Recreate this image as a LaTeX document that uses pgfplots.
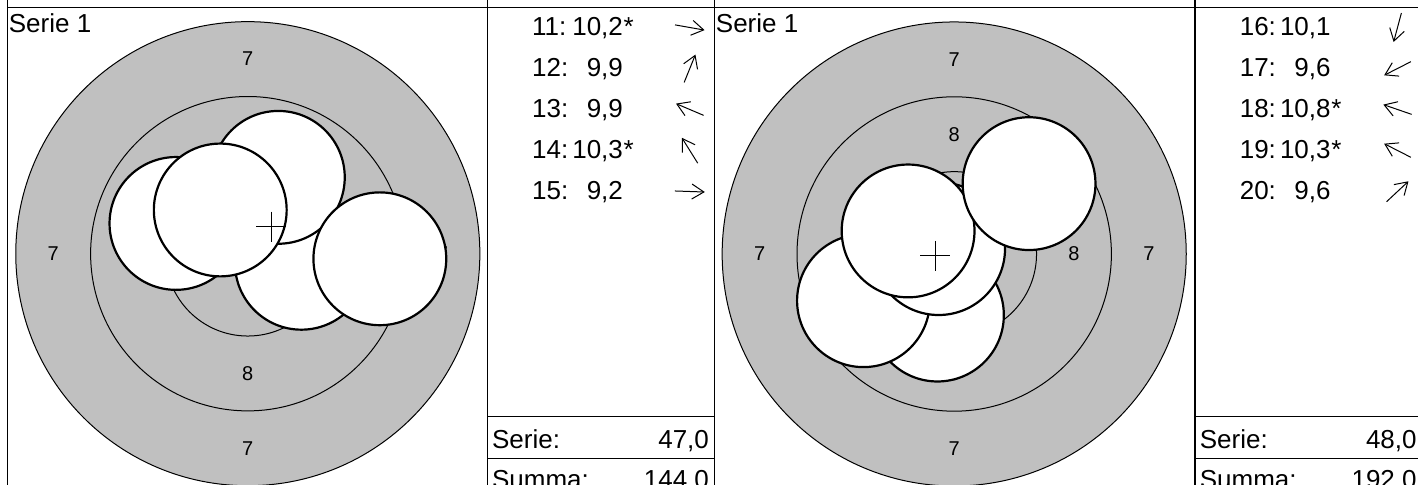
\documentclass[border=0pt]{standalone}
\usepackage{fontspec}
\setmainfont{Liberation Sans}
\usepackage{pgfplots}
\pgfplotsset{compat=1.18}
\usetikzlibrary{arrows.meta}
\definecolor{ringgray}{RGB}{192,192,192}
\newcommand{\mainf}{\fontsize{13}{15}\selectfont}
\newcommand{\ringf}{\fontsize{10}{12}\selectfont}

% shot data (mm from target centre, y up), in firing order
\pgfplotstableread{
x y
1.79 -0.32
1.02 2.55
-2.40 1.01
-0.92 1.46
4.41 -0.17
}\seriesA
\pgfplotstableread{
x y
-0.56 -2.04
-3.03 -1.56
-0.52 0.18
-1.54 0.77
2.50 2.35
}\seriesB

\pgfplotsset{target/.style={
  anchor=center, x=14.97pt, y=14.97pt,
  xmin=-8, xmax=8, ymin=-8, ymax=8,
  hide axis, clip=false}}

\newcommand{\rings}{%
  \fill[ringgray] (axis cs:0,0) circle[radius=7.75];
  \draw[line width=0.5pt] (axis cs:0,0) circle[radius=7.75];
  \draw[line width=0.5pt] (axis cs:0,0) circle[radius=5.25];
  \draw[line width=0.5pt] (axis cs:0,0) circle[radius=2.75];
  \draw[line width=0.5pt,fill=white] (axis cs:0,0) circle[radius=0.25];
  \node[font=\ringf,inner sep=0] at (axis cs:0,6.5) {7};
  \node[font=\ringf,inner sep=0] at (axis cs:0,-6.5) {7};
  \node[font=\ringf,inner sep=0] at (axis cs:-6.5,0) {7};
  \node[font=\ringf,inner sep=0] at (axis cs:6.5,0) {7};
  \node[font=\ringf,inner sep=0] at (axis cs:0,4) {8};
  \node[font=\ringf,inner sep=0] at (axis cs:0,-4) {8};
  \node[font=\ringf,inner sep=0] at (axis cs:-4,0) {8};
  \node[font=\ringf,inner sep=0] at (axis cs:4,0) {8};
}
\tikzset{arr/.style={-{Straight Barb[length=6pt,width=7.5pt]},line width=0.5pt}}
% #1 table left, #2 baseline, #3 shot no., #4 value, #5 star, #6 direction angle
\newcommand{\shotrow}[6]{%
  \node[anchor=base west,inner sep=0,font=\mainf] at ({#1+44.4},#2) {#3:};
  \node[anchor=base east,inner sep=0,font=\mainf] at ({#1+136},#2) {#4};
  \node[anchor=base west,inner sep=0,font=\mainf] at ({#1+136},#2) {#5};
  \draw[arr] ({#1+202.5},{#2-8.5}) ++({#6+180}:7.5pt) -- ++(#6:15pt);
}

\begin{document}
\begin{tikzpicture}
\useasboundingbox (0pt,0pt) rectangle (709pt,-242.5pt);

% ---- target 1
\begin{axis}[target, at={(123.9pt,-126.85pt)}]
  \rings
  \addplot[only marks, mark=*, mark size=33.2pt,
    mark options={fill=white,draw=black,line width=1.1pt}] table[x=x,y=y] {\seriesA};
  \addplot[only marks, mark=+, mark size=7.5pt,
    mark options={line width=0.6pt}] coordinates {(0.78,0.906)};
\end{axis}

% ---- target 2
\begin{axis}[target, at={(477.1pt,-127pt)}]
  \rings
  \addplot[only marks, mark=*, mark size=33.2pt,
    mark options={fill=white,draw=black,line width=1.1pt}] table[x=x,y=y] {\seriesB};
  \addplot[only marks, mark=+, mark size=7.5pt,
    mark options={line width=0.6pt}] coordinates {(-0.63,-0.06)};
\end{axis}

\begin{scope}[x=0.5pt,y=-0.5pt]
  % frame lines
  \draw[line width=0.6pt] (7.3,0) -- (7.3,485);
  \draw[line width=0.6pt] (487.3,0) -- (487.3,485);
  \draw[line width=0.6pt] (714.3,0) -- (714.3,485);
  \draw[line width=0.6pt] (1195,0) -- (1195,485);
  \draw[line width=0.6pt] (7.3,7.3) -- (1418,7.3);
  \draw[line width=0.6pt] (487.3,416.7) -- (714.3,416.7);
  \draw[line width=0.6pt] (487.3,458.7) -- (714.3,458.7);
  \draw[line width=0.6pt] (1195,416.7) -- (1418,416.7);
  \draw[line width=0.6pt] (1195,458.7) -- (1418,458.7);

  \node[anchor=base west,inner sep=0,font=\mainf] at (8.5,32.3) {Serie 1};
  \node[anchor=base west,inner sep=0,font=\mainf] at (715.5,32.3) {Serie 1};

  % table 1
  \shotrow{487.3}{36}{11}{10,2}{*}{-10}
  \shotrow{487.3}{77}{12}{9,9}{}{68}
  \shotrow{487.3}{118}{13}{9,9}{}{157}
  \shotrow{487.3}{159}{14}{10,3}{*}{122}
  \shotrow{487.3}{200}{15}{9,2}{}{-2}
  \node[anchor=base west,inner sep=0,font=\mainf] at (491.7,448.3) {Serie:};
  \node[anchor=base east,inner sep=0,font=\mainf] at (709.3,448.3) {47,0};
  \node[anchor=base west,inner sep=0,font=\mainf] at (491.7,488.5) {Summa:};
  \node[anchor=base east,inner sep=0,font=\mainf] at (709.3,488.5) {144,0};

  % table 2
  \shotrow{1195}{36}{16}{10,1}{}{-105}
  \shotrow{1195}{77}{17}{9,6}{}{-153}
  \shotrow{1195}{118}{18}{10,8}{*}{161}
  \shotrow{1195}{159}{19}{10,3}{*}{153}
  \shotrow{1195}{200}{20}{9,6}{}{43}
  \node[anchor=base west,inner sep=0,font=\mainf] at (1199.4,448.3) {Serie:};
  \node[anchor=base east,inner sep=0,font=\mainf] at (1417,448.3) {48,0};
  \node[anchor=base west,inner sep=0,font=\mainf] at (1199.4,488.5) {Summa:};
  \node[anchor=base east,inner sep=0,font=\mainf] at (1417,488.5) {192,0};
\end{scope}
\end{tikzpicture}
\end{document}
